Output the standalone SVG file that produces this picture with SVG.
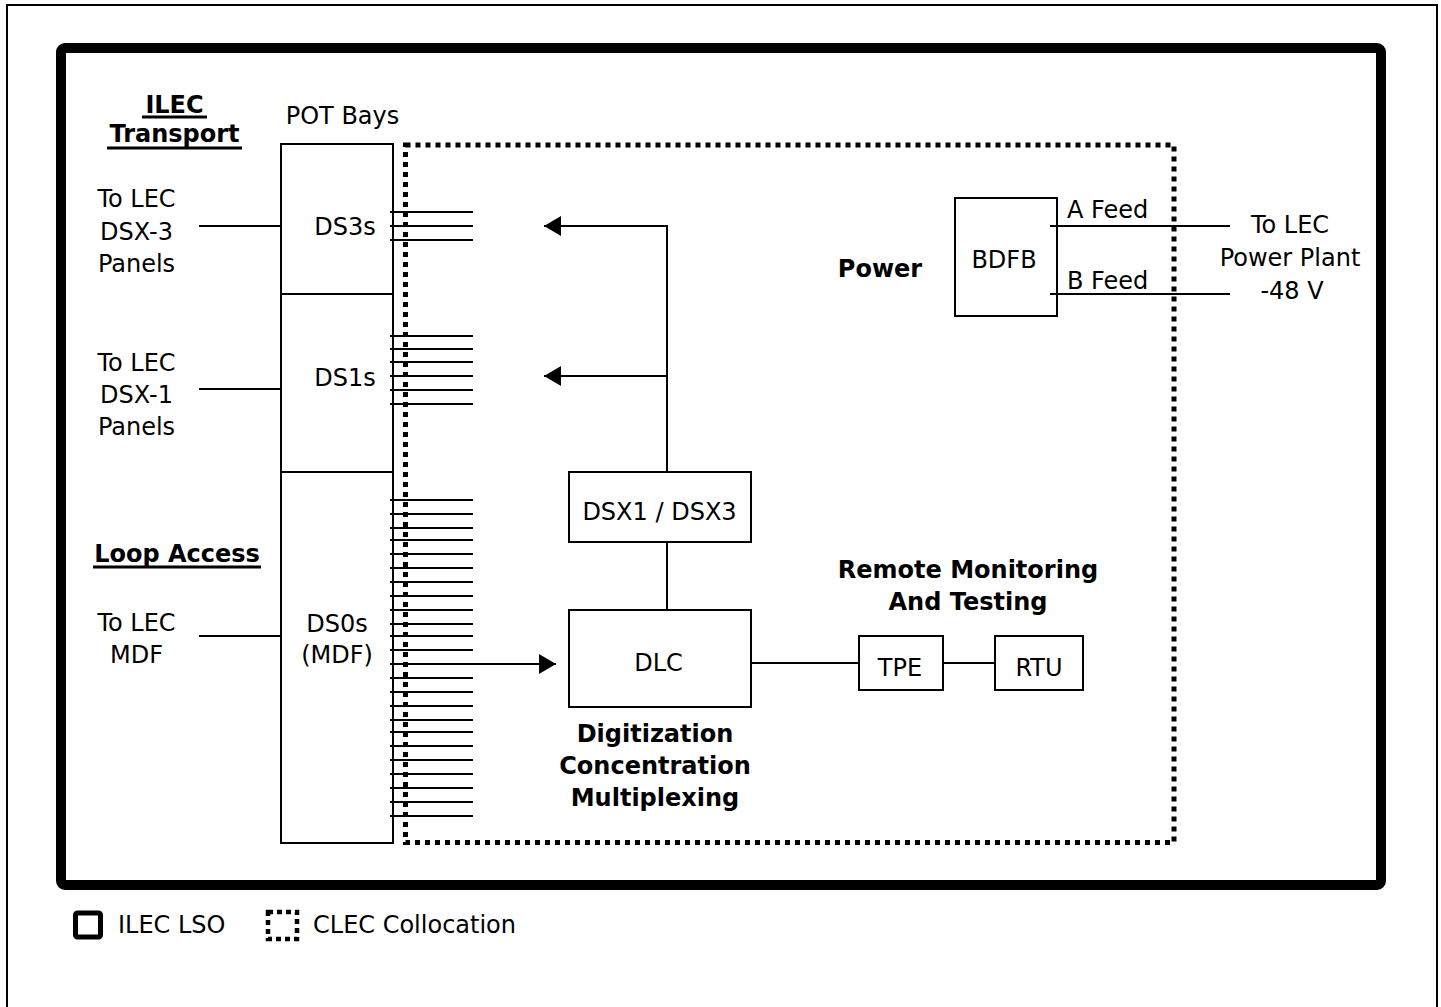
<svg xmlns="http://www.w3.org/2000/svg" width="1441" height="1007" viewBox="0 0 1441 1007">
<style>
.t{font-family:"DejaVu Sans",sans-serif;font-size:24px;fill:#000}
.b{font-family:"DejaVu Sans",sans-serif;font-size:24px;font-weight:bold;fill:#000}
.m{text-anchor:middle}
.box{fill:none;stroke:#000;stroke-width:2}
.ln{stroke:#000;stroke-width:2;fill:none}
.dot{fill:none;stroke:#000;stroke-width:5;stroke-dasharray:5 5}
</style>
<defs>
<marker id="ah" markerWidth="18" markerHeight="20" refX="17" refY="10" orient="auto" markerUnits="userSpaceOnUse">
<path d="M0,0 L17,10 L0,20 Z" fill="#000"/>
</marker>
</defs>
<rect width="1441" height="1007" fill="#fff"/>
<rect x="7" y="5" width="1430" height="1012" fill="none" stroke="#000" stroke-width="2"/>
<g id="ilec-lso">
<rect x="61" y="48" width="1320" height="837" rx="4" fill="none" stroke="#000" stroke-width="10"/>
</g>
<g id="clec-collocation">
<rect x="405.5" y="145" width="768.5" height="697.5" class="dot"/>
</g>
<g id="titles">
<text class="b m" x="174.5" y="113">ILEC</text>
<line x1="142" y1="117" x2="207" y2="117" stroke="#000" stroke-width="3"/>
<text class="b m" x="174.5" y="142">Transport</text>
<line x1="107" y1="148" x2="242" y2="148" stroke="#000" stroke-width="3"/>
<text class="t m" x="342.5" y="124">POT Bays</text>
<text class="b m" x="177" y="562">Loop Access</text>
<line x1="93" y1="567" x2="261" y2="567" stroke="#000" stroke-width="3"/>
</g>
<g id="to-lec-dsx3">
<text class="t m" x="136.5" y="207">To LEC</text>
<text class="t m" x="136.5" y="240">DSX-3</text>
<text class="t m" x="136.5" y="272">Panels</text>
</g>
<g id="to-lec-dsx1">
<text class="t m" x="136.5" y="371">To LEC</text>
<text class="t m" x="136.5" y="403">DSX-1</text>
<text class="t m" x="136.5" y="435">Panels</text>
</g>
<g id="to-lec-mdf">
<text class="t m" x="136.5" y="631">To LEC</text>
<text class="t m" x="136.5" y="663">MDF</text>
</g>
<g id="pot-bays">
<rect x="281" y="144" width="112" height="699" class="box"/>
<line x1="281" y1="294" x2="393" y2="294" class="ln"/>
<line x1="281" y1="472" x2="393" y2="472" class="ln"/>
<text class="t m" x="345" y="235">DS3s</text>
<text class="t m" x="345" y="386">DS1s</text>
<text class="t m" x="337" y="632">DS0s</text>
<text class="t m" x="337" y="663">(MDF)</text>
</g>
<g id="dsx1-dsx3">
<rect x="569" y="472" width="182" height="70" class="box"/>
<text class="t m" x="659.5" y="520">DSX1 / DSX3</text>
</g>
<g id="dlc">
<rect x="569" y="610" width="182" height="97" class="box"/>
<text class="t m" x="658.5" y="671">DLC</text>
<text class="b m" x="655" y="742">Digitization</text>
<text class="b m" x="655" y="774">Concentration</text>
<text class="b m" x="655" y="806">Multiplexing</text>
</g>
<g id="tpe">
<rect x="859" y="636" width="84" height="54" class="box"/>
<text class="t m" x="900" y="676">TPE</text>
</g>
<g id="rtu">
<rect x="995" y="636" width="88" height="54" class="box"/>
<text class="t m" x="1039" y="676">RTU</text>
</g>
<g id="remote-label">
<text class="b m" x="968" y="578">Remote Monitoring</text>
<text class="b m" x="968" y="610">And Testing</text>
</g>
<g id="bdfb">
<rect x="955" y="198" width="102" height="118" class="box"/>
<text class="t m" x="1004" y="268">BDFB</text>
<text class="b m" x="880" y="277">Power</text>
<text class="t" x="1067" y="218">A Feed</text>
<text class="t" x="1067" y="289">B Feed</text>
</g>
<g id="to-lec-power">
<text class="t m" x="1290" y="233">To LEC</text>
<text class="t m" x="1290" y="266">Power Plant</text>
<text class="t m" x="1292" y="299">-48 V</text>
</g>
<g id="connectors">
<line x1="199" y1="226" x2="281" y2="226" class="ln"/>
<line x1="199" y1="389" x2="281" y2="389" class="ln"/>
<line x1="199" y1="636" x2="281" y2="636" class="ln"/>
<path class="ln" d="M390,212H473M390,226H473M390,240H473"/>
<path class="ln" d="M390,336H473M390,349H473M390,362H473M390,376H473M390,390H473M390,404H473"/>
<path class="ln" d="M390,500H473M390,514H473M390,528H473M390,540H473M390,554H473M390,568H473M390,582H473M390,596H473M390,610H473M390,624H473M390,636H473M390,650H473M390,678H473M390,692H473M390,706H473M390,720H473M390,732H473M390,746H473M390,760H473M390,774H473M390,788H473M390,802H473M390,816H473"/>
<line x1="390" y1="664" x2="556" y2="664" class="ln" marker-end="url(#ah)"/>
<path class="ln" d="M667,472V226H544" marker-end="url(#ah)"/>
<line x1="667" y1="376" x2="544" y2="376" class="ln" marker-end="url(#ah)"/>
<line x1="667" y1="542" x2="667" y2="610" class="ln"/>
<line x1="751" y1="663" x2="859" y2="663" class="ln"/>
<line x1="943" y1="663" x2="995" y2="663" class="ln"/>
<line x1="1050" y1="226" x2="1230" y2="226" class="ln"/>
<line x1="1050" y1="294" x2="1230" y2="294" class="ln"/>
</g>
<g id="legend">
<rect x="75.5" y="913" width="25" height="24" rx="2" fill="none" stroke="#000" stroke-width="5"/>
<text class="t" x="118" y="933">ILEC LSO</text>
<rect x="268" y="912" width="29" height="27" fill="none" stroke="#000" stroke-width="4.5" stroke-dasharray="5 4"/>
<text class="t" x="313" y="933">CLEC Collocation</text>
</g>
</svg>
